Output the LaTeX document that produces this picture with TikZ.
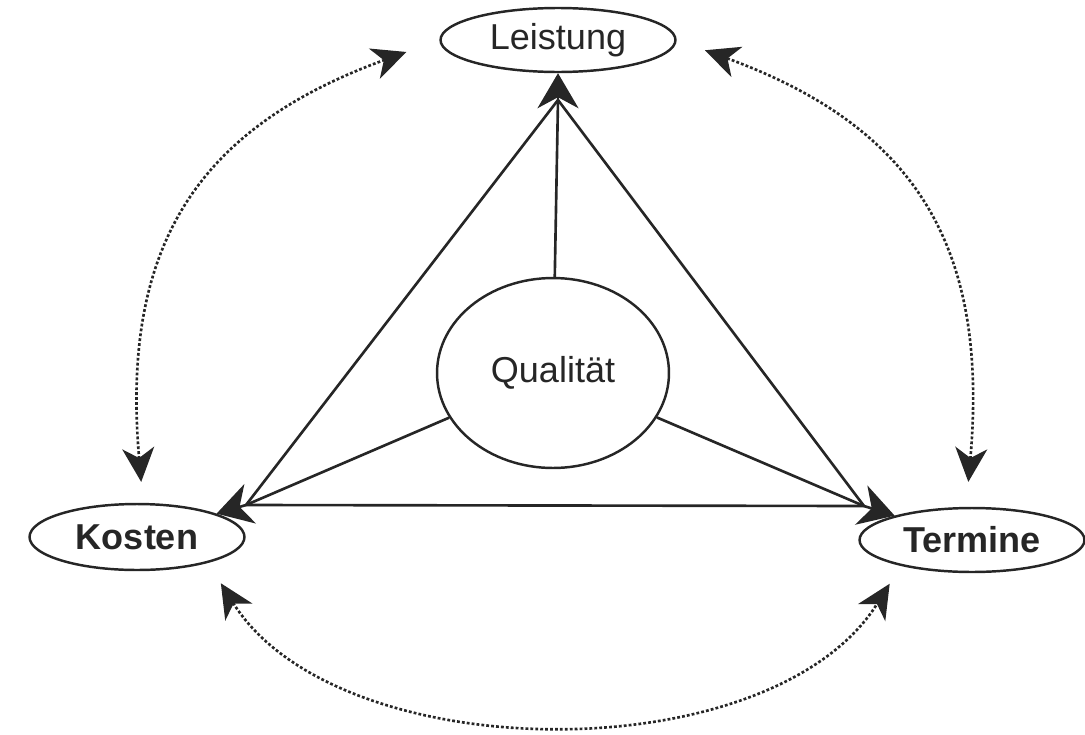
\documentclass[tikz,border=0pt]{standalone}
\usepackage{fontspec}
\setmainfont{Liberation Sans}
\usetikzlibrary{arrows.meta,shapes.geometric}
\tikzset{
  goal/.style={draw=black!85, ellipse, line width=1.4pt, inner sep=0pt, text=black!85},
  spoke/.style={draw=black!85, line width=1.5pt},
  tipline/.style={draw=black!85, line width=1.5pt, -{Stealth[length=0.7cm, width=0.82cm, inset=0.22cm]}},
  pull/.style={draw=black!85, line width=1.5pt, dash pattern=on 1.6pt off 1.2pt,
    {Stealth[length=0.68cm, width=0.64cm, inset=0.2cm]}-{Stealth[length=0.68cm, width=0.64cm, inset=0.2cm]}}
}
\begin{document}
\begin{tikzpicture}[x=0.02cm, y=-0.02cm, font=\fontsize{20.5}{24}\selectfont]
  \useasboundingbox (0,0) rectangle (1085,734);
  % magisches Dreieck mit Qualitaet in der Mitte
  \node[goal, minimum width=4.7cm, minimum height=1.28cm] (lei) at (558,40) {Leistung};
  \node[goal, minimum width=4.3cm, minimum height=1.32cm] (kos) at (137,537) {\bfseries Kosten};
  \node[goal, minimum width=4.5cm, minimum height=1.28cm] (ter) at (972,540) {\bfseries Termine};
  \node[goal, minimum width=4.64cm, minimum height=3.8cm] (qual) at (553,373) {Qualität};
  \coordinate (jT) at (558,100);
  \coordinate (jL) at (246,505);
  \coordinate (jR) at (864,506);
  \draw[spoke] (jT) -- (jL) -- (jR) -- cycle;
  \foreach \j/\n in {jT/lei, jL/kos, jR/ter} {
    \draw[spoke] (qual) -- (\j);
    \draw[tipline] (\j) -- (\n);
  }
  \draw[pull, shorten <=0.42cm, shorten >=0.7cm] (kos.80) to[out=95, in=200, looseness=1.2] (lei.180);
  \draw[pull, shorten <=0.5cm, shorten >=0.6cm] (ter.100) to[out=85, in=-20, looseness=1.2] (lei.0);
  \draw[pull, shorten <=0.48cm, shorten >=0.42cm] (kos.-20) to[out=-58, in=238, looseness=0.9] (ter.200);
\end{tikzpicture}
\end{document}
